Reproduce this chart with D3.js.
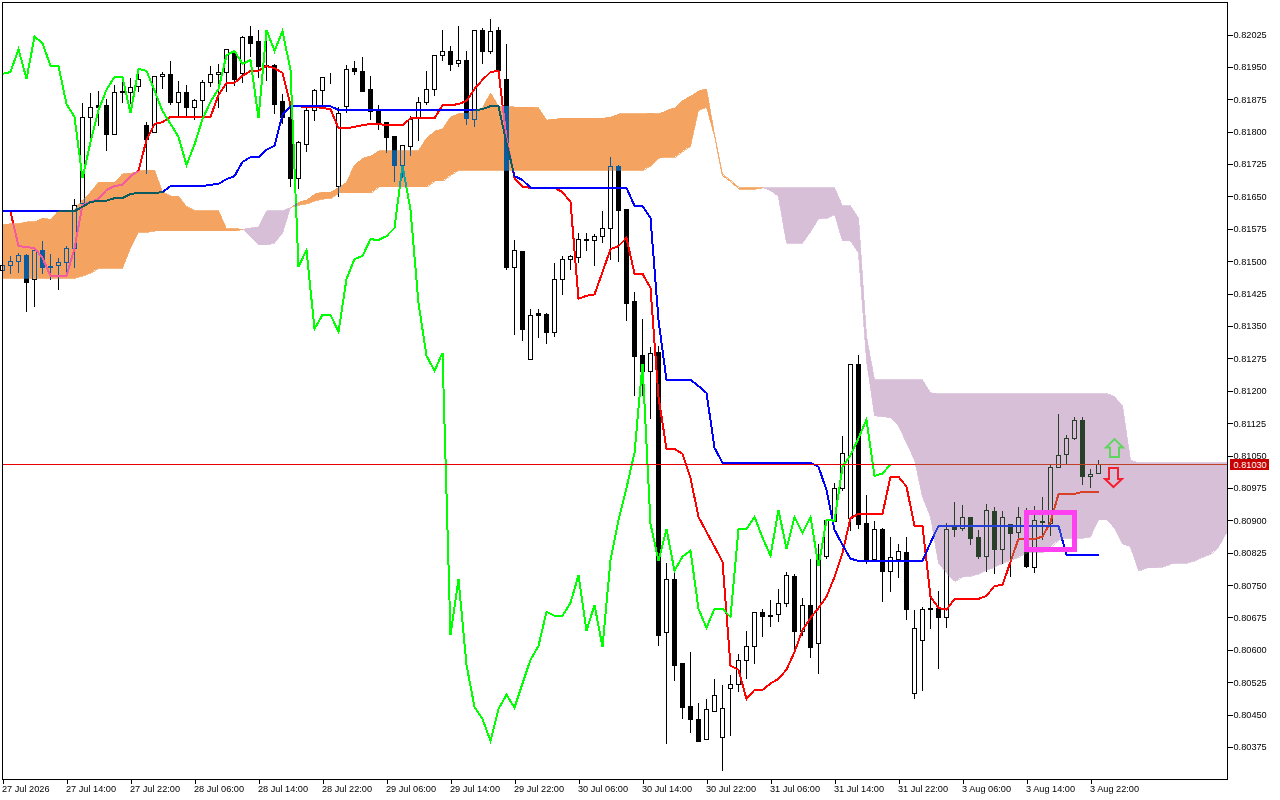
<!DOCTYPE html>
<html><head><meta charset="utf-8">
<script src="https://cdn.jsdelivr.net/npm/d3@7/dist/d3.min.js"></script>
<style>
html,body{margin:0;padding:0;background:#fff;overflow:hidden}
svg{display:block}
text{font-family:"Liberation Sans",sans-serif;font-size:9.2px;fill:#000}
</style></head><body>
<svg id="c" width="1280" height="800"></svg>
<script>
// all prices are in points (1 point = 0.00001)
const opens=[81479,81491,81501,81514,81459,81526,81487,81491,81498,81530,
81635,81834,81861,81861,81795,81895,81892,81906,81815,81799,
81929,81934,81869,81892,81857,81873,81915,81934,81938,81984,
81936,82022,82010,81954,81954,81871,81834,81692,81772,81850,
81897,81927,81674,81859,81947,81941,81899,81848,81822,81790,
81723,81767,81834,81869,81899,81977,81987,81959,81966,81829,
82036,81987,82036,81922,81487,81524,81274,81380,81378,81336,
81459,81505,81510,81551,81549,81558,81577,81721,81621,81408,
81283,81246,81290,80641,80764,80570,80470,80440,80394,80459,
80399,80512,80522,80577,80609,80688,80681,80684,80709,80771,
80644,80704,80616,80818,80899,80975,80905,81262,80894,80811,
80880,80783,80811,80827,80500,80623,80697,80697,80676,80885,
80882,80908,80862,80818,80922,80834,80892,80873,80855,80792,
80896,80894,81024,81054,81090,81133,81003,81010];
const highs=[81498,81514,81521,81519,81526,81549,81519,81510,81537,81646,
81869,81892,81897,81878,81911,81927,81927,81941,81825,81932,
81941,81966,81920,81911,81878,81922,81954,81959,81991,81991,
82024,82047,82038,82038,81959,81890,81857,81781,81857,81901,
81929,81938,81859,81957,81966,81975,81931,81864,81822,81790,
81770,81838,81883,81943,81977,82038,82001,82047,81989,82036,
82043,82063,82045,82005,81551,81524,81392,81392,81382,81498,
81514,81517,81567,81567,81565,81619,81744,81726,81621,81431,
81369,81304,81306,80803,80783,80570,80598,80479,80488,80535,
80522,80543,80593,80646,80690,80697,80718,80743,80783,80778,
80723,80813,80848,80901,80989,81097,81262,81286,80961,80901,
80885,80864,80848,80864,80695,80702,80739,80739,80896,80945,
80938,80910,80880,80940,80933,80924,80892,80933,80931,80936,
80956,81031,81149,81100,81142,81142,81022,81042];
const lows=[81471,81473,81475,81385,81396,81473,81459,81436,81475,81487,
81626,81788,81815,81758,81795,81869,81866,81895,81704,81799,
81901,81864,81836,81838,81829,81831,81906,81857,81895,81908,
81915,81975,81927,81920,81843,81820,81674,81670,81756,81827,
81857,81913,81651,81845,81934,81895,81829,81806,81753,81686,
81695,81746,81781,81864,81885,81966,81943,81952,81818,81813,
81959,81982,81943,81482,81332,81318,81274,81325,81311,81327,
81423,81482,81498,81526,81491,81544,81505,81501,81364,81190,
81190,81137,80611,80385,80531,80443,80410,80389,80394,80459,
80322,80403,80505,80535,80570,80632,80655,80667,80702,80595,
80634,80584,80547,80813,80899,80970,80878,80882,80801,80811,
80713,80736,80769,80672,80488,80507,80651,80558,80653,80864,
80878,80846,80813,80783,80778,80801,80771,80860,80792,80781,
80857,80866,81024,81033,81088,80985,80978,81010];
const closes=[81491,81501,81514,81452,81526,81487,81489,81498,81530,81630,
81834,81857,81857,81795,81892,81892,81904,81922,81783,81929,
81934,81869,81892,81857,81873,81915,81934,81938,81991,81922,
82020,82005,81952,81952,81864,81834,81692,81776,81850,81897,
81927,81926,81843,81945,81941,81895,81848,81818,81788,81723,
81770,81829,81869,81899,81977,81987,81957,81966,81831,82036,
81987,82033,81943,81487,81526,81343,81376,81376,81336,81459,
81505,81512,81551,81549,81558,81577,81721,81619,81403,81281,
81246,81288,80634,80764,80565,80468,80440,80389,80463,80496,
80466,80522,80577,80609,80688,80679,80679,80709,80773,80644,
80704,80607,80808,80901,80975,81056,81262,80892,80806,80880,
80783,80816,80830,80695,80651,80695,80695,80676,80880,80880,
80908,80860,80818,80924,80834,80908,80871,80908,80794,80901,
80899,81024,81051,81090,81133,81003,81008,81030];
const tenkan=[null,81614,81535,81533,81530,81508,81466,81466,81466,81530,
81630,81637,81644,81665,81674,81677,81697,81709,81781,81818,
81822,81834,81834,81834,81834,81834,81834,81885,81913,81913,
81929,81941,81941,81952,81947,81936,81861,81859,81857,81857,
81855,81852,81808,81808,81811,81815,81818,81818,81815,81815,
81815,81831,81831,81831,81831,81861,81861,81864,81871,81899,
81920,81938,81941,81785,81692,81672,81670,81670,81670,81670,
81660,81637,81413,81420,81423,81475,81528,81535,81554,81471,
81471,81438,81186,81065,81065,81054,80998,80908,80873,80839,
80804,80563,80554,80486,80507,80507,80522,80533,80554,80595,
80646,80674,80697,80723,80769,80825,80905,80915,80915,80915,
80915,81001,81001,80978,80887,80887,80723,80697,80693,80718,
80718,80718,80718,80725,80748,80750,80804,80857,80857,80857,
80862,80896,80961,80961,80961,80966,80966,80966];
const kijun=[81616,81616,81616,81616,81616,81616,81616,81616,81616,81616,
81626,81637,81640,81640,81646,81646,81656,81658,81658,81658,
81660,81674,81674,81674,81674,81674,81677,81679,81690,81697,
81730,81741,81741,81758,81767,81839,81859,81859,81859,81859,
81859,81859,81850,81850,81850,81850,81850,81850,81850,81850,
81850,81850,81850,81850,81850,81850,81850,81850,81850,81850,
81852,81859,81859,81774,81697,81688,81670,81670,81670,81670,
81670,81670,81670,81670,81670,81670,81670,81670,81670,81628,
81628,81600,81364,81225,81225,81225,81225,81211,81195,81068,
81033,81033,81033,81033,81033,81033,81033,81033,81033,81033,
81033,81033,81024,80970,80878,80843,80811,80806,80806,80806,
80806,80806,80806,80806,80806,80806,80848,80887,80887,80887,
80887,80887,80887,80887,80887,80887,80887,80887,80887,80887,
80887,80887,80887,80820,80820,80820,80820,80820];
const chikou=[81934,81938,81991,81922,82020,82005,81952,81952,81864,81834,
81692,81776,81850,81897,81927,81926,81843,81945,81941,81895,
81848,81818,81788,81723,81770,81829,81869,81899,81977,81987,
81957,81966,81831,82036,81987,82033,81943,81487,81526,81343,
81376,81376,81336,81459,81505,81512,81551,81549,81558,81577,
81721,81619,81403,81281,81246,81288,80634,80764,80565,80468,
80440,80389,80463,80496,80466,80522,80577,80609,80688,80679,
80679,80709,80773,80644,80704,80607,80808,80901,80975,81056,
81262,80892,80806,80880,80783,80816,80830,80695,80651,80695,
80695,80676,80880,80880,80908,80860,80818,80924,80834,80908,
80871,80908,80794,80901,80899,81024,81051,81090,81133,81003,
81008,81030];
const spanA=[81584,81587,81587,81591,81591,81600,81596,81617,81617,81619,
81642,81660,81683,81683,81683,81702,81704,81709,81711,81711,
81660,81651,81651,81626,81617,81617,81617,81617,81575,81575,
81574,81556,81538,81538,81542,81565,81625,81637,81642,81656,
81660,81660,81672,81683,81723,81739,81744,81756,81756,81756,
81756,81756,81756,81785,81802,81806,81834,81843,81843,81850,
81855,81890,81859,81859,81857,81857,81857,81855,81827,81829,
81831,81831,81831,81831,81831,81831,81834,81841,81841,81841,
81841,81843,81841,81850,81855,81873,81883,81895,81899,81793,
81700,81686,81670,81670,81670,81670,81663,81649,81542,81542,
81542,81568,81598,81600,81609,81547,81547,81519,81271,81142,
81140,81137,81119,81079,81040,80954,80908,80801,80778,80759,
80769,80771,80776,80785,80792,80801,80808,80815,80825,80825,
80825,80838,80855,80859,80859,80859,80862,80901,80901,80882,
80845,80838,80783,80790,80790,80792,80799,80801,80801,80806,
80815,80822,80838,80871];
const spanB=[81461,81461,81461,81461,81461,81461,81461,81461,81461,81461,
81466,81473,81484,81484,81484,81484,81530,81567,81567,81570,
81570,81570,81570,81570,81570,81570,81570,81570,81570,81570,
81574,81577,81579,81617,81617,81617,81625,81630,81633,81640,
81644,81646,81658,81658,81658,81658,81658,81672,81672,81672,
81672,81672,81672,81672,81686,81686,81700,81711,81711,81711,
81711,81711,81711,81711,81711,81711,81711,81711,81711,81711,
81711,81711,81711,81711,81711,81711,81711,81711,81711,81711,
81711,81721,81739,81741,81741,81755,81767,81850,81857,81790,
81697,81683,81667,81667,81667,81670,81670,81670,81670,81670,
81670,81670,81670,81670,81670,81628,81628,81600,81325,81225,
81225,81225,81225,81225,81225,81225,81195,81193,81193,81193,
81193,81193,81193,81193,81193,81193,81193,81193,81193,81193,
81193,81193,81193,81193,81193,81193,81193,81193,81193,81186,
81165,81038,81033,81033,81033,81033,81033,81033,81033,81033,
81033,81033,81033,81033];
const priceTicks=[82025,81950,81875,81800,81725,81650,81575,81500,81425,81350,81275,81200,81125,81050,80975,80900,80825,80750,80675,80600,80525,80450,80375];
const timeLabels=["27 Jul 2026","27 Jul 14:00","27 Jul 22:00","28 Jul 06:00","28 Jul 14:00","28 Jul 22:00","29 Jul 06:00","29 Jul 14:00","29 Jul 22:00","30 Jul 06:00","30 Jul 14:00","30 Jul 22:00","31 Jul 06:00","31 Jul 14:00","31 Jul 22:00","3 Aug 06:00","3 Aug 14:00","3 Aug 22:00"];
const barsPerLabel=8;
const lastPrice=81030;
const boxBars=[128,134], boxPrices=[80918,80833];
const arrowBar=139, arrowUpTip=81088, arrowDownTip=80977;

const svg=d3.select("#c");
const L=2,R=1227,T=2,B=779;
const x=d3.scaleLinear().domain([0,153]).range([2.5,1226.5]);
const y=d3.scaleLinear().domain([80375,82025]).range([747,34.5]);
const fmt=v=>(v/1e5).toFixed(5);
const snap=v=>Math.round(v)+.5;

svg.append("rect").attr("width",1280).attr("height",800).attr("fill","#fff");

// candles
const bars=d3.range(opens.length);
const g=svg.append("g").attr("shape-rendering","crispEdges");
g.selectAll("line.w").data(bars).join("line").attr("class","w")
 .attr("x1",x).attr("x2",x).attr("y1",i=>snap(y(highs[i]))).attr("y2",i=>snap(y(lows[i]))).attr("stroke","#000");
g.selectAll("rect.b").data(bars).join("rect").attr("class","b")
 .attr("x",i=>x(i)-2).attr("width",4)
 .attr("y",i=>snap(y(Math.max(opens[i],closes[i]))))
 .attr("height",i=>Math.max(snap(y(Math.min(opens[i],closes[i])))-snap(y(Math.max(opens[i],closes[i]))),0))
 .attr("fill",i=>closes[i]>=opens[i]?"#fff":"#000").attr("stroke","#000");

// ichimoku lines
const line=d3.line().defined(d=>d!=null).x((d,i)=>x(i)).y(d=>y(d));
[[tenkan,"#ff0000"],[kijun,"#0000ff"],[chikou,"#00ff00"]].forEach(([s,c])=>{
 svg.append("path").attr("d",line(s)).attr("fill","none").attr("stroke",c).attr("stroke-width",2).attr("shape-rendering","crispEdges");
});

// current price line
const yLast=Math.floor(y(lastPrice))+.5;
svg.append("line").attr("x1",L).attr("x2",R).attr("y1",yLast).attr("y2",yLast).attr("stroke","#e60000").attr("shape-rendering","crispEdges");

// cloud: painted by difference, as the platform's XOR fill
const spanIdx=d3.range(spanA.length);
const area=d3.area().x(i=>x(i)).y0(i=>y(spanA[i])).y1(i=>y(spanB[i]));
const cloud=(test,col)=>svg.append("path")
 .attr("d",area.defined(i=>test(spanA[i],spanB[i]))(spanIdx))
 .attr("fill",col).attr("stroke",col).attr("stroke-width",.8)
 .attr("shape-rendering","crispEdges").style("mix-blend-mode","difference");
cloud((a,b)=>a>=b,"#0b5b9f");
cloud((a,b)=>a<=b,"#274027");

// highlight box
svg.append("rect").attr("x",x(boxBars[0])).attr("width",x(boxBars[1])-x(boxBars[0]))
 .attr("y",y(boxPrices[0])).attr("height",y(boxPrices[1])-y(boxPrices[0]))
 .attr("fill","none").attr("stroke","#ff40f0").attr("stroke-width",5).attr("shape-rendering","crispEdges");

// arrows
const ax=x(arrowBar);
const up=[[0,0],[8.5,8.5],[4.5,8.5],[4.5,18],[-4.5,18],[-4.5,8.5],[-8.5,8.5]];
const down=[[0,0],[8.5,-8],[4.5,-8],[4.5,-19],[-4.5,-19],[-4.5,-8],[-8.5,-8]];
svg.append("path").attr("d","M"+up.join("L")+"Z").attr("transform",`translate(${ax},${y(arrowUpTip)})`)
 .attr("fill","none").attr("stroke","#5ed65e").attr("stroke-width",2);
svg.append("path").attr("d","M"+down.join("L")+"Z").attr("transform",`translate(${ax-1},${y(arrowDownTip)})`)
 .attr("fill","none").attr("stroke","#f42030").attr("stroke-width",2);

// frame
svg.append("rect").attr("x",L+.5).attr("y",T+.5).attr("width",R-L).attr("height",B-T)
 .attr("fill","none").attr("stroke","#000").attr("shape-rendering","crispEdges");

// axes
const yAxis=d3.axisRight(y).tickValues(priceTicks).tickFormat(fmt).tickSize(5).tickPadding(1);
const ga=svg.append("g").attr("transform",`translate(${R+.5},0)`).call(yAxis);
ga.select(".domain").remove();
ga.selectAll("line").attr("shape-rendering","crispEdges");

const xTicks=timeLabels.map((_,i)=>i*barsPerLabel);
const xAxis=d3.axisBottom(x).tickValues(xTicks).tickFormat((d,i)=>timeLabels[i]).tickSize(4).tickPadding(2);
const gb=svg.append("g").attr("transform",`translate(0,${B+.5})`).call(xAxis);
gb.select(".domain").remove();
gb.selectAll("line").attr("shape-rendering","crispEdges");
gb.selectAll("text").attr("text-anchor","start").attr("dx",-1);
ga.attr("font-family",null).attr("font-size",null);
gb.attr("font-family",null).attr("font-size",null);

// price tag
const tag=svg.append("g");
tag.append("rect").attr("x",1230).attr("y",yLast-5.5).attr("width",39).attr("height",11).attr("fill","#c80000");
tag.append("text").attr("x",1233.5).attr("y",yLast+3.2).text(fmt(lastPrice)).style("fill","#fff");
</script>
</body></html>
